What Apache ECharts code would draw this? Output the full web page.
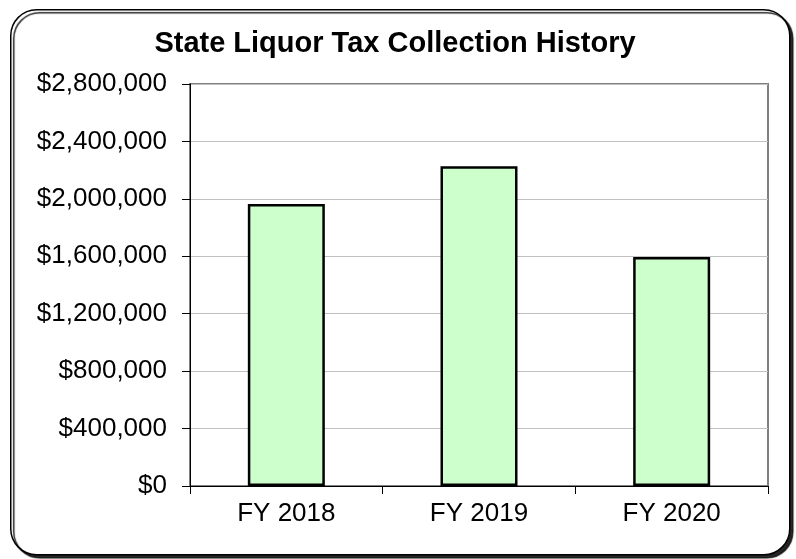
<!DOCTYPE html>
<html>
<head>
<meta charset="utf-8">
<script src="https://cdn.jsdelivr.net/npm/echarts@6/dist/echarts.min.js"></script>
<style>
  html, body { margin: 0; padding: 0; background: #fff; }
  #chart { width: 796px; height: 559px; }
</style>
</head>
<body>
<div id="chart"></div>
<script>
var years = ['FY 2018', 'FY 2019', 'FY 2020'];
var collections = [1964000, 2227000, 1595000];
var yTicks = { min: 0, max: 2800000, step: 400000 };

var myChart = echarts.init(document.getElementById('chart'));
var font = '"Liberation Sans", Arial, sans-serif';

var option = {
    animation: false,
    backgroundColor: '#fff',
    graphic: [{
        type: 'rect',
        left: 10, top: 9,
        shape: { width: 779, height: 545, r: 26 },
        style: {
            fill: '#fff', stroke: '#000', lineWidth: 1.5,
            shadowColor: 'rgba(0,0,0,0.85)', shadowOffsetX: 3, shadowOffsetY: 3, shadowBlur: 1
        },
        z: -10
    }],
    title: {
        text: 'State Liquor Tax Collection History',
        left: 390, top: 24, textAlign: 'center',
        textStyle: { fontFamily: font, fontSize: 29, fontWeight: 'bold', color: '#000' }
    },
    grid: {
        left: 190, right: 28, top: 84, bottom: 73,
        show: true, borderColor: '#808080', borderWidth: 2
    },
    xAxis: {
        type: 'category',
        data: years,
        axisLine: { lineStyle: { color: '#000', width: 1 } },
        axisTick: { show: true, length: 8, lineStyle: { color: '#000' } },
        axisLabel: { fontFamily: font, fontSize: 26, color: '#000', margin: 15 }
    },
    yAxis: {
        type: 'value',
        min: yTicks.min, max: yTicks.max, interval: yTicks.step,
        axisLine: { show: true, lineStyle: { color: '#000', width: 1 } },
        axisTick: { show: true, length: 8, lineStyle: { color: '#000' } },
        splitLine: { lineStyle: { color: '#c0c0c0', width: 1 } },
        axisLabel: {
            fontFamily: font, fontSize: 26, color: '#000', margin: 23,
            formatter: function (v) { return '$' + v.toLocaleString('en-US'); }
        }
    },
    series: [{
        type: 'bar',
        data: collections,
        barWidth: 77,
        itemStyle: { color: '#ccffcc', borderColor: '#000', borderWidth: 2.5 }
    }]
};

myChart.setOption(option);
</script>
</body>
</html>
